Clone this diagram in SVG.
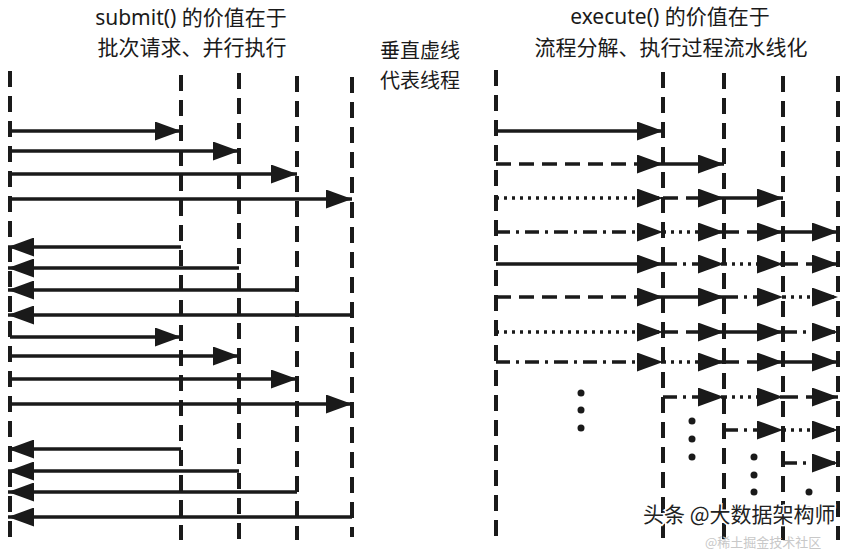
<svg xmlns="http://www.w3.org/2000/svg" width="859" height="551" viewBox="0 0 859 551">
<style>
.bg{fill:#fff}
.t{font-family:"Noto Sans","Noto Sans CJK SC",sans-serif;font-size:21px;fill:#1a1a1a;text-anchor:middle}
.thread{stroke:#1a1a1a;stroke-width:4;stroke-dasharray:16 9;fill:none}
.a{stroke:#1a1a1a;stroke-width:3.5;fill:none;marker-end:url(#ah)}
.r{stroke:#1a1a1a;stroke-width:3.5;fill:none;marker-end:url(#ah)}
.solid{}
.dashed{stroke-dasharray:15 8}
.dotted{stroke-dasharray:3 5}
.dashdot{stroke-dasharray:14 6 3 6}
.dot{fill:#1a1a1a}
.wm{font-family:"Noto Sans CJK SC","Noto Sans",sans-serif;font-size:21px;fill:#222;stroke:#fff;stroke-width:3;paint-order:stroke}
.wm2{font-family:"Noto Sans CJK SC","Noto Sans",sans-serif;font-size:13px;fill:#c8c8c8}
</style>
<defs>
<marker id="ah" viewBox="0 0 26 19" refX="26" refY="9.5" markerWidth="26" markerHeight="19" markerUnits="userSpaceOnUse" orient="auto">
<path d="M0,0 L26,9.5 L0,19 z" fill="#1a1a1a"/>
</marker>
</defs>
<rect class="bg" x="0" y="0" width="859" height="551"/>

<g id="labels">
<text class="t" x="191" y="25">submit() 的价值在于</text>
<text class="t" x="192" y="55">批次请求、并行执行</text>
<text class="t" x="420" y="58" style="font-size:20px">垂直虚线</text>
<text class="t" x="420" y="88" style="font-size:20px">代表线程</text>
<text class="t" x="670" y="24">execute() 的价值在于</text>
<text class="t" x="671" y="55">流程分解、执行过程流水线化</text>
</g>

<g id="submit-threads">
<line class="thread" x1="10" y1="71" x2="10" y2="537"/>
<line class="thread" x1="181" y1="75" x2="181" y2="540"/>
<line class="thread" x1="239" y1="73" x2="239" y2="540"/>
<line class="thread" x1="297" y1="76" x2="297" y2="540"/>
<line class="thread" x1="352" y1="77" x2="352" y2="537"/>
</g>

<g id="execute-threads">
<line class="thread" x1="496" y1="70" x2="496" y2="537"/>
<line class="thread" x1="663" y1="72" x2="663" y2="540"/>
<line class="thread" x1="724" y1="73" x2="724" y2="540"/>
<line class="thread" x1="783" y1="76" x2="783" y2="540"/>
<line class="thread" x1="838" y1="76" x2="838" y2="540"/>
</g>

<g id="connectors">
<g id="submit-arrows">
<line class="a" x1="10" y1="131" x2="181" y2="131"/>
<line class="a" x1="10" y1="151" x2="239" y2="151"/>
<line class="a" x1="10" y1="174" x2="297" y2="174"/>
<line class="a" x1="10" y1="199" x2="352" y2="199"/>
<line class="a" x1="181" y1="247" x2="8" y2="247"/>
<line class="a" x1="239" y1="268" x2="8" y2="268"/>
<line class="a" x1="297" y1="290" x2="8" y2="290"/>
<line class="a" x1="352" y1="315" x2="8" y2="315"/>
<line class="a" x1="10" y1="337" x2="181" y2="337"/>
<line class="a" x1="10" y1="356" x2="239" y2="356"/>
<line class="a" x1="10" y1="379" x2="297" y2="379"/>
<line class="a" x1="10" y1="404" x2="352" y2="404"/>
<line class="a" x1="181" y1="449" x2="8" y2="449"/>
<line class="a" x1="239" y1="471" x2="8" y2="471"/>
<line class="a" x1="297" y1="492" x2="8" y2="492"/>
<line class="a" x1="352" y1="517" x2="8" y2="517"/>
</g>
<g id="execute-arrows">
<line class="r solid" x1="496" y1="131" x2="663" y2="131"/>

<line class="r dashed" x1="496" y1="164" x2="663" y2="164"/>
<line class="r solid" x1="663" y1="164" x2="724" y2="164"/>

<line class="r dotted" x1="496" y1="198" x2="663" y2="198"/>
<line class="r dashed" x1="663" y1="198" x2="724" y2="198"/>
<line class="r solid" x1="724" y1="198" x2="783" y2="198"/>

<line class="r dashdot" x1="496" y1="232" x2="663" y2="232"/>
<line class="r dotted" x1="663" y1="232" x2="724" y2="232"/>
<line class="r dashed" x1="724" y1="232" x2="783" y2="232"/>
<line class="r solid" x1="783" y1="232" x2="838" y2="232"/>

<line class="r solid" x1="496" y1="264" x2="663" y2="264"/>
<line class="r dashdot" x1="663" y1="264" x2="724" y2="264"/>
<line class="r dotted" x1="724" y1="264" x2="783" y2="264"/>
<line class="r dashed" x1="783" y1="264" x2="838" y2="264"/>

<line class="r dashed" x1="496" y1="297" x2="663" y2="297"/>
<line class="r solid" x1="663" y1="297" x2="724" y2="297"/>
<line class="r dashdot" x1="724" y1="297" x2="783" y2="297"/>
<line class="r dotted" x1="783" y1="297" x2="838" y2="297"/>

<line class="r dotted" x1="496" y1="332" x2="663" y2="332"/>
<line class="r dashed" x1="663" y1="332" x2="724" y2="332"/>
<line class="r solid" x1="724" y1="332" x2="783" y2="332"/>
<line class="r dashdot" x1="783" y1="332" x2="838" y2="332"/>

<line class="r dashdot" x1="496" y1="362" x2="663" y2="362"/>
<line class="r dotted" x1="663" y1="362" x2="724" y2="362"/>
<line class="r dashed" x1="724" y1="362" x2="783" y2="362"/>
<line class="r solid" x1="783" y1="362" x2="838" y2="362"/>

<line class="r dashdot" x1="663" y1="397" x2="724" y2="397"/>
<line class="r dotted" x1="724" y1="397" x2="783" y2="397"/>
<line class="r dashed" x1="783" y1="397" x2="838" y2="397"/>

<line class="r dashdot" x1="724" y1="430" x2="783" y2="430"/>
<line class="r dotted" x1="783" y1="430" x2="838" y2="430"/>

<line class="r dashdot" x1="783" y1="463" x2="838" y2="463"/>
</g>
</g>

<g id="ellipses">
<circle class="dot" cx="581" cy="393" r="3.5"/>
<circle class="dot" cx="581" cy="410" r="3.5"/>
<circle class="dot" cx="581" cy="428" r="3.5"/>
<circle class="dot" cx="692" cy="421" r="3.5"/>
<circle class="dot" cx="692" cy="439" r="3.5"/>
<circle class="dot" cx="692" cy="457" r="3.5"/>
<circle class="dot" cx="754" cy="457" r="3.5"/>
<circle class="dot" cx="754" cy="475" r="3.5"/>
<circle class="dot" cx="754" cy="492" r="3.5"/>
<circle class="dot" cx="809" cy="492" r="3.5"/>
<circle class="dot" cx="809" cy="510" r="3.5"/>
</g>

<g id="watermark">
<text class="wm2" x="705" y="547">@稀土掘金技术社区</text>
<text class="wm" x="643" y="522">头条 @大数据架构师</text>
</g>
</svg>
